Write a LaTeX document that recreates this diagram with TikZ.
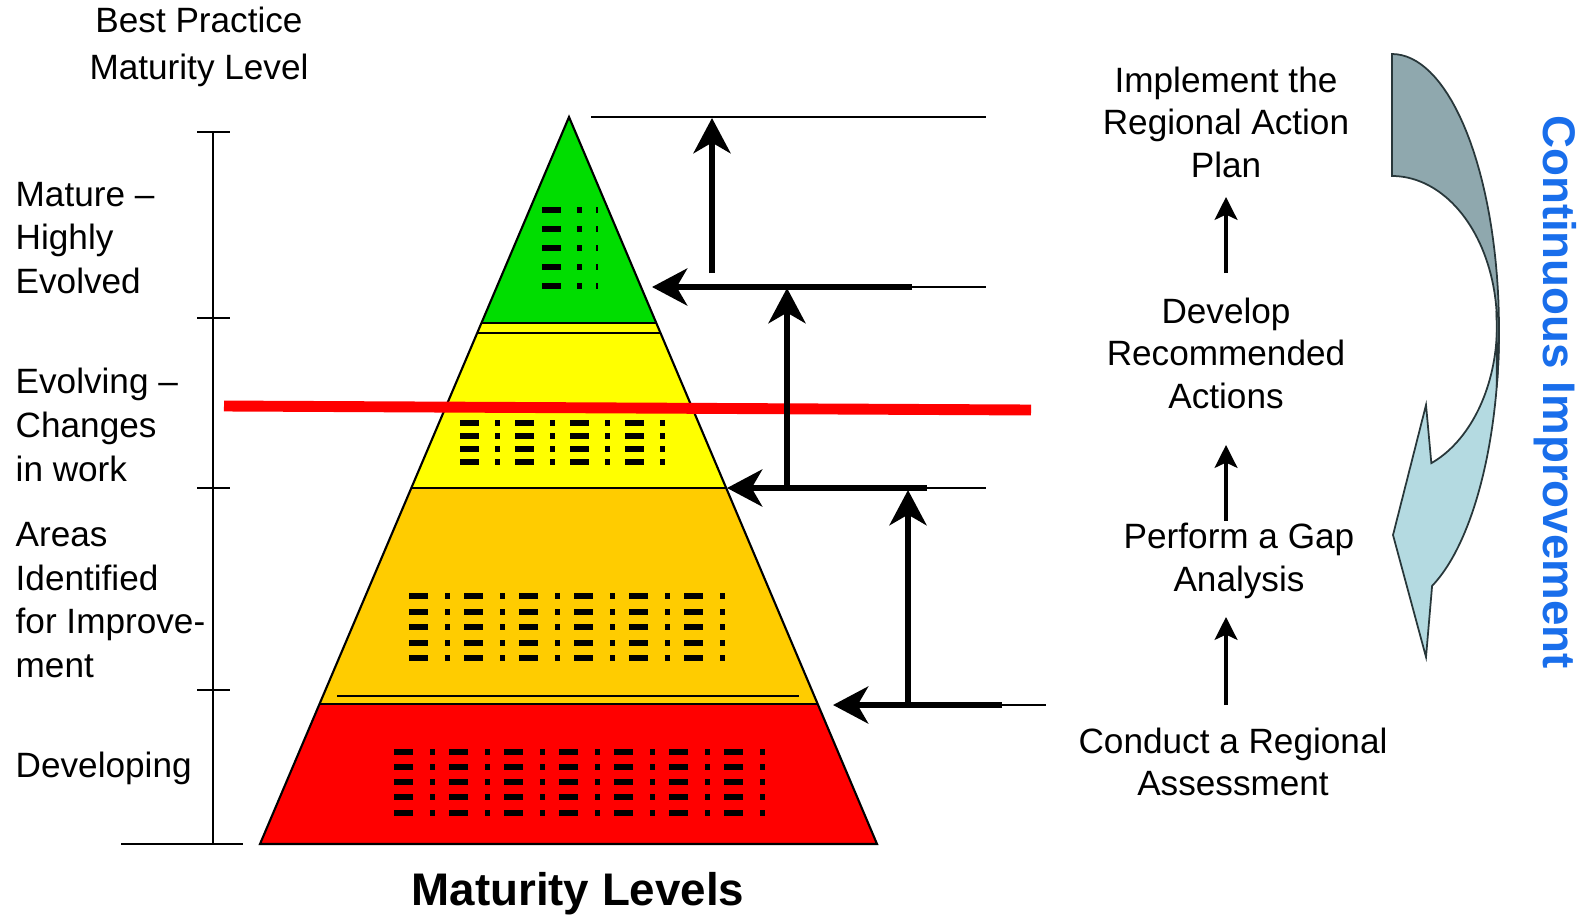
\documentclass[tikz,border=0pt]{standalone}
\usepackage{fontspec}
\setmainfont{Liberation Sans}
\usetikzlibrary{arrows.meta}

\definecolor{lvlgreen}{RGB}{0,221,0}
\definecolor{lvlyellow}{RGB}{255,255,0}
\definecolor{lvlorange}{RGB}{255,204,0}
\definecolor{lvlred}{RGB}{255,0,0}
\definecolor{cyclegray}{RGB}{143,168,174}
\definecolor{cyclelight}{RGB}{180,218,225}
\definecolor{cycleedge}{RGB}{40,55,58}
\definecolor{cycleblue}{RGB}{25,110,235}

\tikzset{
  lbl/.style={font=\fontsize{10}{12.4}\selectfont, align=left, anchor=west, inner sep=0},
  steptext/.style={font=\fontsize{10}{12.1}\selectfont, align=center, inner sep=0},
  bigarrow/.style={line width=1.7pt, -{Stealth[length=10pt, width=10.5pt, inset=3pt]}},
  smallarrow/.style={line width=1pt, -{Stealth[length=6.5pt, width=6.5pt, inset=1.5pt]}},
  rule/.style={line width=0.45pt},
}

\begin{document}
\begin{tikzpicture}[x=0.01cm, y=-0.01cm]

    \useasboundingbox (0,0) rectangle (1585,915);

    % Pyramid
    \coordinate (apex) at (569,117);
    \coordinate (baseL) at (260,844);
    \coordinate (baseR) at (877,844);
    \begin{scope}
        \clip (apex) -- (baseL) -- (baseR) -- cycle;
        \fill[lvlgreen] (200,100) rectangle (1000,323);
        \fill[lvlyellow] (200,323) rectangle (1000,488);
        \fill[lvlorange] (200,488) rectangle (1000,704);
        \fill[lvlred] (200,704) rectangle (1000,850);
        \draw[rule] (200,323) -- (1000,323);
        \draw[rule] (200,333) -- (1000,333);
        \draw[rule] (200,488) -- (1000,488);
        \draw[rule] (200,704) -- (1000,704);
    \end{scope}
    \draw[rule] (337,696) -- (799,696);
    \draw[line width=0.6pt] (apex) -- (baseL) -- (baseR) -- cycle;

    % Level marks
    \foreach \y in {210,229,248,267,286} {
        \fill (542,\y-3) rectangle ++(19,6);
        \fill (577,\y-3) rectangle ++(5,6);
        \fill (596,\y-3) rectangle ++(2,6);
    }
    \foreach \y in {423,436,449,462}
        \foreach \x in {460,515,...,625} {
            \fill (\x,\y-3) rectangle ++(19,6);
            \fill (\x+35,\y-3) rectangle ++(5,6);
        }
    \foreach \y in {596,612,627,643,658}
        \foreach \x in {409,464,...,684} {
            \fill (\x,\y-3) rectangle ++(19,6);
            \fill (\x+36,\y-3) rectangle ++(5,6);
        }
    \foreach \y in {752,767,782,797,813}
        \foreach \x in {394,449,...,724} {
            \fill (\x,\y-3) rectangle ++(19,6);
            \fill (\x+36,\y-3) rectangle ++(5,6);
        }

    % Best practice line
    \draw[lvlred, line width=3.1pt] (224,406) -- (1031,410);

    % Scale on the left
    \draw[line width=0.55pt] (213,132) -- (213,844);
    \foreach \y in {132,318,488,690}
        \draw[line width=0.55pt] (197,\y) -- (230,\y);
    \draw[line width=0.55pt] (121,844) -- (243,844);

    \node[steptext, font=\fontsize{10}{13.2}\selectfont] (best) at (199,47) {Best Practice\\Maturity Level};
    \node[lbl] (mature) at (15,238) {Mature –\\Highly\\Evolved};
    \node[lbl] (evolving) at (15,425) {Evolving –\\Changes\\in work};
    \node[lbl] (areas) at (15,600) {Areas\\Identified\\for Improve-\\ment};
    \node[lbl] (developing) at (15,768) {Developing};
    \node[font=\bfseries\fontsize{13}{15}\selectfont, inner sep=0] (levels) at (578,894) {Maturity Levels};

    % Steps between levels
    \coordinate (top1) at (591,117);
    \coordinate (top2) at (986,117);
    \draw[rule] (top1) -- (top2);

    \coordinate (h1) at (652,287);
    \coordinate (t1) at (912,287);
    \coordinate (e1) at (986,287);
    \coordinate (h2) at (727,488);
    \coordinate (t2) at (927,488);
    \coordinate (e2) at (986,488);
    \coordinate (h3) at (833,705);
    \coordinate (t3) at (1002,705);
    \coordinate (e3) at (1046,705);
    \draw[rule] (t1) -- (e1);
    \draw[rule] (t2) -- (e2);
    \draw[rule] (t3) -- (e3);
    \draw[bigarrow] (t1) -- (h1);
    \draw[bigarrow] (t2) -- (h2);
    \draw[bigarrow] (t3) -- (h3);

    \coordinate (v1) at (712,273);
    \coordinate (v1top) at (712,118);
    \coordinate (v2) at (787,488);
    \coordinate (v2top) at (787,288);
    \coordinate (v3) at (908,705);
    \coordinate (v3top) at (908,490);
    \draw[bigarrow] (v1) -- (v1top);
    \draw[bigarrow] (v2) -- (v2top);
    \draw[bigarrow] (v3) -- (v3top);

    % Process on the right
    \node[steptext] (implement) at (1226,122) {Implement the\\Regional Action\\Plan};
    \node[steptext] (develop) at (1226,353) {Develop\\Recommended\\Actions};
    \node[steptext] (gap) at (1239,561) {Perform a Gap\\Analysis};
    \node[steptext] (assess) at (1233,762) {Conduct a Regional\\Assessment};

    \coordinate (s1) at (1226,705);
    \coordinate (s1top) at (1226,617);
    \coordinate (s2) at (1226,521);
    \coordinate (s2top) at (1226,445);
    \coordinate (s3) at (1226,273);
    \coordinate (s3top) at (1226,197);
    \draw[smallarrow] (s1) -- (s1top);
    \draw[smallarrow] (s2) -- (s2top);
    \draw[smallarrow] (s3) -- (s3top);

    % Cycle arrow
    \filldraw[fill=cyclelight, draw=cycleedge, line width=0.5pt]
        (1497,312) -- (1499,330)
        -- plot[domain=0:-68, samples=40, variable=\t] ({1392+107*cos(\t)}, {330-276*sin(\t)})
        -- (1426,657) -- (1393,535) -- (1426,405)
        -- plot[domain=-68:5, samples=40, variable=\t] ({1392+105*cos(\t)}, {325-149*sin(\t)})
        -- cycle;
    \filldraw[fill=cyclegray, draw=cycleedge, line width=0.5pt]
        (1392,54)
        -- plot[domain=90:-12, samples=40, variable=\t] ({1392+107*cos(\t)}, {330-276*sin(\t)})
        -- plot[domain=5:90, samples=40, variable=\t] ({1392+105*cos(\t)}, {325-149*sin(\t)})
        -- cycle;
    \node[rotate=-90, font=\bfseries\fontsize{13}{15}\selectfont, text=cycleblue, inner sep=0] (cont) at (1555,392) {Continuous Improvement};

\end{tikzpicture}
\end{document}
